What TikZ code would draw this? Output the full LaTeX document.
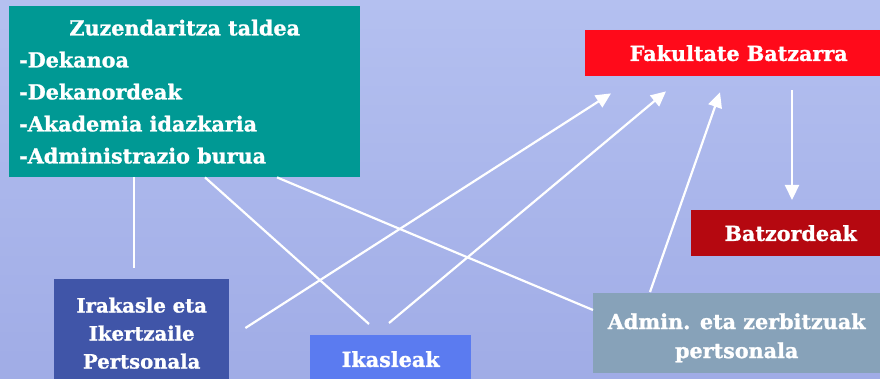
\documentclass[tikz,border=0pt]{standalone}
\usepackage{fontspec}
\setmainfont{DejaVu Serif}[BoldFeatures={FakeBold=1.2}]
\usetikzlibrary{arrows.meta,calc}
\definecolor{bgtop}{RGB}{180,192,240}
\definecolor{bgbot}{RGB}{160,172,230}
\definecolor{cteal}{RGB}{0,153,148}
\definecolor{cred}{RGB}{255,10,26}
\definecolor{cdred}{RGB}{181,8,16}
\definecolor{cadmin}{RGB}{135,162,185}
\definecolor{cirak}{RGB}{64,85,168}
\definecolor{cikas}{RGB}{91,123,240}
\tikzset{
  box/.style={anchor=north west, inner sep=0pt, text=white, align=center,
    font=\bfseries\fontsize{20.7}{28}\selectfont},
  link/.style={draw=white, line width=2.2pt},
  arr/.style={link, -{Triangle[length=15pt,width=14pt]}},
}
\begin{document}
\begin{tikzpicture}[x=1pt,y=-1pt]
\useasboundingbox (0,0) rectangle (880,379);
\shade[top color=bgtop, bottom color=bgbot] (0,0) rectangle (880,379);
% nodes
\node[box, fill=cteal, minimum width=351pt, minimum height=171pt, align=none,
  text width=331pt, inner xsep=10pt,
  font=\bfseries\fontsize{20.7}{32}\selectfont] (zuz) at (9,6)
  {{\centering Zuzendaritza taldea\par}{\raggedright -Dekanoa\\-Dekanordeak\\-Akademia idazkaria\\-Administrazio burua\par}};
\node[box, fill=cred, minimum width=295pt, minimum height=46pt] (fak) at (585,30) {\hspace*{12pt}Fakultate Batzarra};
\node[box, fill=cdred, minimum width=189pt, minimum height=46pt] (batz) at (691,210) {\hspace*{10pt}Batzordeak};
\node[box, fill=cadmin, minimum width=287pt, minimum height=80pt,
  font=\bfseries\fontsize{20.7}{29}\selectfont] (admin) at (593,293)
  {\rule{0pt}{25pt}Admin. eta zerbitzuak\\pertsonala};
\node[box, fill=cirak, minimum width=175pt, minimum height=108pt,
  font=\bfseries\fontsize{19.6}{28}\selectfont] (irak) at (54,279)
  {Irakasle eta\\Ikertzaile\\Pertsonala};
\node[box, fill=cikas, minimum width=161pt, minimum height=48pt] (ikas) at (310,335) {Ikasleak};
% connector end points
\coordinate (z1) at ($(zuz.south west)+(125,0)$);
\coordinate (z2) at ($(zuz.south west)+(196,0)$);
\coordinate (z3) at ($(zuz.south west)+(268,0)$);
\coordinate (i1) at ($(irak.north west)+(80,-11)$);
\coordinate (k1) at ($(ikas.north west)+(59,-11)$);
\coordinate (k2) at ($(ikas.north west)+(79,-12)$);
\coordinate (a1) at ($(admin.north west)+(0,17)$);
\coordinate (a2) at ($(admin.north west)+(57,-1)$);
\coordinate (i2) at ($(irak.north east)+(16,49)$);
\coordinate (f1) at ($(fak.south west)+(26,17)$);
\coordinate (f2) at ($(fak.south west)+(81,15)$);
\coordinate (f3) at ($(fak.south west)+(135,16)$);
\coordinate (f4) at ($(fak.south west)+(207,14)$);
\coordinate (b1) at ($(batz.north west)+(101,-10)$);
% connectors
\draw[link] (z1) -- (i1);
\draw[link] (z2) -- (k1);
\draw[link] (z3) -- (a1);
\draw[arr] (i2) -- (f1);
\draw[arr] (k2) -- (f2);
\draw[arr] (a2) -- (f3);
\draw[arr] (f4) -- (b1);
\end{tikzpicture}
\end{document}
